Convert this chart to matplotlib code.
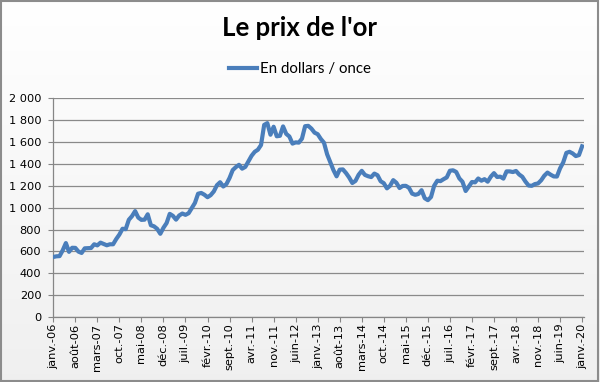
import matplotlib
matplotlib.use("Agg")
import matplotlib.pyplot as plt
import numpy as np

# monthly gold price, USD per ounce, janv. 2006 -> janv. 2020
prix = [
    549, 555, 557, 610, 676, 596, 633, 632, 598, 586, 628, 629,          # 2006
    631, 665, 655, 680, 668, 656, 665, 665, 713, 754, 807, 803,          # 2007
    889, 922, 968, 909, 888, 890, 939, 839, 829, 806, 761, 816,          # 2008
    859, 943, 925, 890, 928, 946, 934, 949, 996, 1043, 1127, 1134,       # 2009
    1118, 1095, 1114, 1148, 1205, 1232, 1193, 1215, 1271, 1343, 1370, 1391,  # 2010
    1356, 1372, 1424, 1474, 1510, 1529, 1572, 1756, 1772, 1666, 1739, 1652,  # 2011
    1656, 1742, 1674, 1650, 1585, 1596, 1594, 1630, 1744, 1747, 1722, 1685,  # 2012
    1671, 1627, 1593, 1487, 1414, 1343, 1286, 1347, 1349, 1316, 1275, 1225,  # 2013
    1244, 1300, 1336, 1299, 1287, 1279, 1311, 1296, 1241, 1223, 1176, 1200,  # 2014
    1251, 1227, 1179, 1198, 1199, 1181, 1128, 1117, 1125, 1159, 1086, 1068,  # 2015
    1097, 1200, 1246, 1242, 1260, 1276, 1337, 1341, 1326, 1267, 1236, 1152,  # 2016
    1192, 1234, 1231, 1266, 1246, 1260, 1237, 1283, 1315, 1280, 1283, 1265,  # 2017
    1331, 1331, 1325, 1335, 1303, 1282, 1238, 1202, 1199, 1215, 1221, 1250,  # 2018
    1292, 1320, 1301, 1285, 1284, 1359, 1413, 1500, 1510, 1495, 1471, 1480,  # 2019
    1560,                                                                # 2020
]

mois_labels = ["janv.-06", "août-06", "mars-07", "oct.-07", "mai-08", "déc.-08",
               "juil.-09", "févr.-10", "sept.-10", "avr.-11", "nov.-11", "juin-12",
               "janv.-13", "août-13", "mars-14", "oct.-14", "mai-15", "déc.-15",
               "juil.-16", "févr.-17", "sept.-17", "avr.-18", "nov.-18", "juin-19",
               "janv.-20"]

y_ticks = [0, 200, 400, 600, 800, 1000, 1200, 1400, 1600, 1800, 2000]

plt.rcParams['font.family'] = ['Lato', 'DejaVu Sans']

fig = plt.figure(figsize=(6, 3.82), dpi=100)

# light vertical gradient behind everything, like the excel chart area
bg = fig.add_axes([0, 0, 1, 1], zorder=-10)
grad = np.linspace(1.0, 0.94, 256).reshape(-1, 1)
bg.imshow(np.dstack([grad, grad, grad]), aspect='auto', extent=[0, 1, 0, 1])
bg.set_axis_off()
fig.patches.append(plt.Rectangle((0.002, 0.003), 0.995, 0.994, transform=fig.transFigure,
                                 fill=False, edgecolor='#8c8c8c', linewidth=1.5))

ax = fig.add_axes([0.0888, 0.170, 0.884, 0.573])
ax.patch.set_alpha(0)

x = np.arange(len(prix))
ax.plot(x, prix, color='#4a7ebb', linewidth=3.0, solid_joinstyle='round',
        label='En dollars / once', zorder=3)

ax.set_ylim(0, 2000)
ax.set_xlim(0, 168.5)
ax.set_yticks(y_ticks)
ax.set_yticklabels([f"{v:,}".replace(",", " ") for v in y_ticks], family='DejaVu Sans')
ax.set_xticks(np.arange(0, len(prix), 7))
ax.set_xticklabels(mois_labels, rotation=90, family='DejaVu Sans')
ax.tick_params(axis='both', labelsize=8.2, colors='#000000', length=3.6,
               width=0.8, direction='out')
ax.tick_params(axis='y', pad=5)
ax.tick_params(axis='x', pad=1)
ax.tick_params(axis='both', color='#868686')
ax.yaxis.grid(True, color='#8a8a8a', linewidth=0.9)
ax.set_axisbelow(True)
for s in ['top', 'right']:
    ax.spines[s].set_visible(False)
for s in ['left', 'bottom']:
    ax.spines[s].set_color('#868686')
    ax.spines[s].set_linewidth(0.9)

fig.text(0.5, 0.906, "Le prix de l'or", ha='center', va='baseline',
         fontsize=18.5, fontweight='bold')
leg = fig.legend(loc='center', bbox_to_anchor=(0.5, 0.819), frameon=False,
                 fontsize=10.8, handlelength=1.9, handletextpad=0.2)

fig.savefig('out.png', dpi=100)
